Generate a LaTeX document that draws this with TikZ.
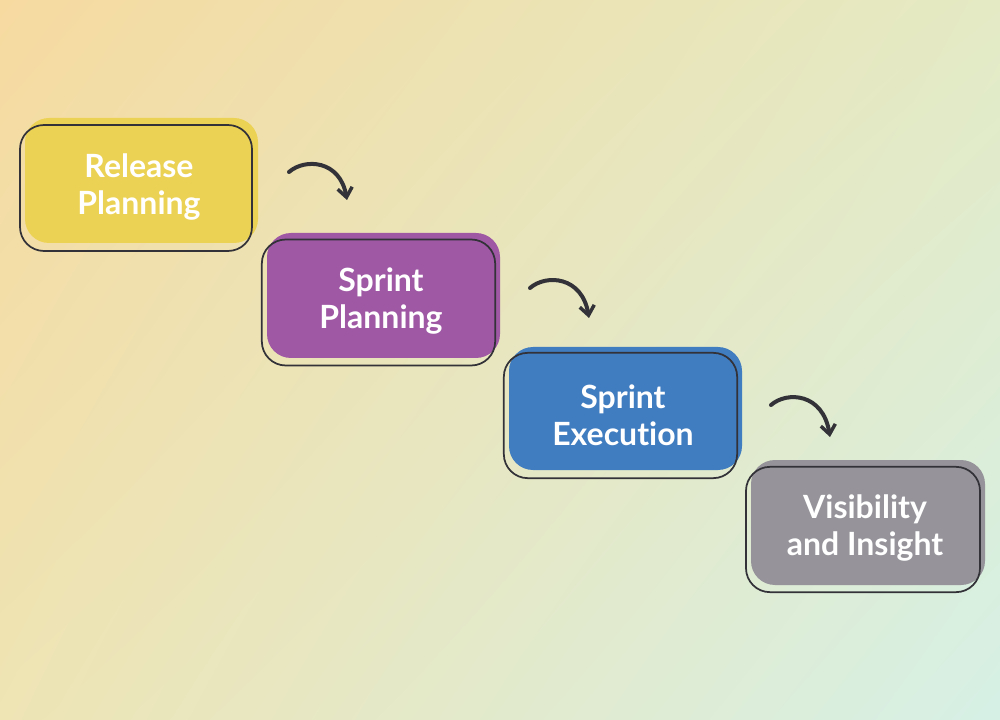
\documentclass[tikz,border=0pt]{standalone}
\usepackage{fontspec}
\setmainfont{Lato}[RawFeature={-liga;-dlig}]
\usetikzlibrary{arrows.meta,shadings}
\definecolor{bgA}{RGB}{246,218,160}
\definecolor{bgB}{RGB}{214,240,230}
\definecolor{bgC}{RGB}{228,234,196}
\definecolor{bgD}{RGB}{238,228,180}
\definecolor{cY}{RGB}{236,210,84}
\definecolor{cP}{RGB}{158,88,164}
\definecolor{cB}{RGB}{64,124,192}
\definecolor{cG}{RGB}{150,148,154}
\definecolor{ink}{RGB}{50,50,56}
\tikzset{
 fillbox/.style={rounded corners=18, draw=none},
 outbox/.style={rounded corners=18, draw=ink, line width=1.3pt},
 lbl/.style={text=white, font=\fontsize{24}{28}\selectfont\bfseries, align=center},
 flow/.style={draw=ink, line width=3pt, line cap=round, -{Straight Barb[length=7pt,width=11pt,line width=2.6pt]}}
}
\begin{document}
\begin{tikzpicture}[x=0.75pt,y=-0.75pt]
\useasboundingbox (0,0) rectangle (1000,720);
\shade[upper left=bgA, lower right=bgB, upper right=bgC, lower left=bgD] (0,0) rectangle (1000,720);
% box 1
\fill[fillbox,cY] (25,118) rectangle (258,243);
\node[outbox, minimum width=174pt, minimum height=94.5pt] (b1) at (136,188) {};
\node[lbl] (t1) at (139,187) {Release\\Planning};
% box 2
\fill[fillbox,cP] (267,233) rectangle (500,358);
\node[outbox, minimum width=175pt, minimum height=94.5pt] (b2) at (378.5,302.5) {};
\node[lbl] (t2) at (381,301) {Sprint\\Planning};
% box 3
\fill[fillbox,cB] (509,347) rectangle (742,470);
\node[outbox, minimum width=175pt, minimum height=94pt] (b3) at (620.5,415.5) {};
\node[lbl] (t3) at (623,415) {Sprint\\Execut\kern0pt ion};
% box 4
\fill[fillbox,cG] (751,460) rectangle (985,585);
\node[outbox, minimum width=175.5pt, minimum height=94pt] (b4) at (863,529.5) {};
\node[lbl] (t4) at (865,528) {Visibility\\and Insight};
% arrows
\coordinate (a1s) at (289,172); \coordinate (a1e) at (347,200);
\coordinate (a2s) at (530,288); \coordinate (a2e) at (589,318);
\coordinate (a3s) at (771,405); \coordinate (a3e) at (830,437);
\draw[flow] (a1s) .. controls (305,158) and (340,160) .. (a1e);
\draw[flow] (a2s) .. controls (546,274) and (582,276) .. (a2e);
\draw[flow] (a3s) .. controls (787,391) and (823,393) .. (a3e);
\end{tikzpicture}
\end{document}
